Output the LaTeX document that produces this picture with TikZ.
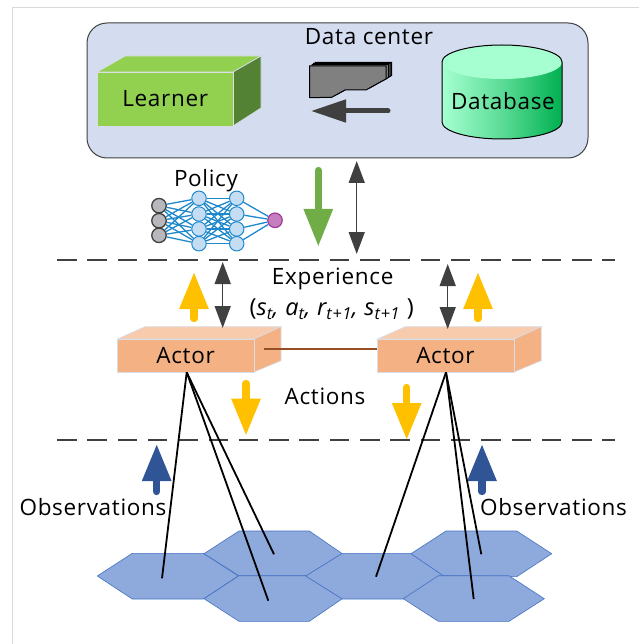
\documentclass[tikz,border=0pt]{standalone}
\usepackage{fontspec}
\setmainfont[LetterSpace=3]{Open Sans}
\usetikzlibrary{arrows.meta,shadings}
\definecolor{dk}{HTML}{404040}
\definecolor{panelc}{HTML}{D3DDEF}
\definecolor{grn}{HTML}{70AD47}
\definecolor{lgrn}{HTML}{92D050}
\definecolor{dgrn}{HTML}{548235}
\definecolor{yel}{HTML}{FFC000}
\definecolor{blu}{HTML}{2F5597}
\definecolor{hexf}{HTML}{8EA9DB}
\definecolor{hexs}{HTML}{4472C4}
\definecolor{netb}{HTML}{1F88CC}
\definecolor{netf}{HTML}{C5DDF3}
\definecolor{mintc}{HTML}{A6FFD0}
\definecolor{dbg}{HTML}{00B050}
\definecolor{actf}{HTML}{F4B183}
\definecolor{actt}{HTML}{F8CBAD}
\definecolor{edgec}{HTML}{D9DDE6}
\definecolor{brn}{HTML}{954F22}
\definecolor{framec}{HTML}{D9D9D9}
\definecolor{outf}{HTML}{C67FBE}
\definecolor{outd}{HTML}{A03A9C}
\definecolor{inf}{HTML}{B8B8BC}
\tikzset{
  lbl/.style={inner sep=0pt,font=\fontsize{22.5}{27}\selectfont,text=black},
  fat/.style={line width=7.3pt,line cap=round,-{Triangle[length=#1,width=27.5pt]},shorten >=0pt},
  fat/.default=37pt,
  twoway/.style={dk,line width=1.5pt,{Triangle[length=22pt,width=16pt]}-{Triangle[length=22pt,width=16pt]}},
  sep/.style={dk,line width=2pt,dash pattern=on 19.5pt off 10.8pt},
  hexa/.style={fill=hexf,draw=hexs,line width=0.6pt},
  lnk/.style={black,line width=1.8pt},
  inn/.style={circle,minimum size=14.5pt,inner sep=0pt,draw=netb,line width=1pt,fill=netf},
  inp/.style={circle,minimum size=14.5pt,inner sep=0pt,draw=dk,line width=1.3pt,fill=inf},
  outn/.style={circle,minimum size=14.5pt,inner sep=0pt,draw=outd,line width=1.2pt,fill=outf},
  wire/.style={netb,line width=1.3pt},
  cardshape/.style={fill=gray,draw=black,line width=1pt},
}
\begin{document}
\begin{tikzpicture}[x=1pt,y=-1pt]
\useasboundingbox (0,0) rectangle (639,644);
\draw[framec,line width=1pt] (12.5,644)--(12.5,7.5)--(639,7.5);
% data center
\draw[fill=panelc,draw=dk,line width=1pt,rounded corners=20pt] (87,23) rectangle (588,158);
\node[lbl] (dc) at (369,37) {Data center};
% learner
\fill[fill=lgrn,draw=edgec,line width=0.7pt] (97.3,72)--(125,56)--(261,56)--(233,72)--cycle;
\fill[fill=dgrn,draw=edgec,line width=0.7pt] (233,72)--(261,56)--(261,108)--(233,126)--cycle;
\node[minimum width=135.7pt,minimum height=54pt,inner sep=0pt,fill=lgrn,draw=edgec,line width=0.7pt,lbl] (learner) at (165.2,99) {\raisebox{-1pt}{Learner}};
% stack icon
\foreach \dx/\dy in {5.5/-3.5,4/-2.6,2.5/-1.5}
  \draw[cardshape] (309.5+\dx,66+\dy)--(386+\dx,66+\dy)--(386+\dx,79+\dy)--(379+\dx,82.7+\dy)--(366+\dx,90+\dy)--(345+\dx,90+\dy)--(331.7+\dx,97.3+\dy)--(309.5+\dx,97.7+\dy)--cycle;
\draw[cardshape] (309.5,66)--(386,66)--(386,79)--(379,82.7)--(366,90)--(345,90)--(331.7,97.3)--(309.5,97.7)--cycle;
\coordinate (sr) at (388,111);
\coordinate (sl) at (311,111);
\draw[dk,line width=5pt,line cap=round,-{Triangle[length=35pt,width=22pt]}] (sr)--(sl);
% database
\shade[left color=mintc,right color=dbg,middle color=mintc!55!dbg] (442,62)--(442,122) arc[start angle=180,end angle=360,x radius=60pt,y radius=17pt]--(562,62)--cycle;
\fill[mintc] (502,62) ellipse[x radius=60pt,y radius=17pt];
\draw[black,line width=1pt] (442,62)--(442,122) arc[start angle=180,end angle=360,x radius=60pt,y radius=17pt]--(562,62);
\draw[black,line width=1pt] (442,62) arc[start angle=180,end angle=0,x radius=60pt,y radius=17pt];
\node[lbl] (db) at (503,101) {Database};
% policy
\node[lbl] (pol) at (206,181) {Policy};
\foreach \p in {a,b,c} \foreach \q in {a,b,c,d} \coordinate (dummy\p\q) at (0,0);
\foreach \n/\y in {a/205.7,b/220.7,c/235.3} \node[inp] (i\n) at (159,\y) {};
\foreach \n/\y in {a/198.3,b/214,c/229,d/243.7} {\node[inn] (h\n) at (199,\y) {};\node[inn] (k\n) at (236.7,\y) {};}
\node[outn] (o) at (275,220.3) {};
\foreach \p in {a,b,c} \foreach \q in {a,b,c,d} \draw[wire] (i\p)--(h\q);
\foreach \p in {a,b,c,d} \foreach \q in {a,b,c,d} \draw[wire] (h\p)--(k\q);
\foreach \p in {a,b,c,d} \draw[wire] (k\p)--(o);
% separators
\coordinate (s1a) at (57,260); \coordinate (s1b) at (615,260);
\coordinate (s2a) at (57,440); \coordinate (s2b) at (615,440);
\draw[sep] (s1a)--(s1b);
\draw[sep] (s2a)--(s2b);
% actors
\foreach \n/\dx in {L/0,R/260.2}{
  \fill[fill=actt,draw=edgec,line width=0.7pt] (117.3+\dx,339)--(145+\dx,326.7)--(281+\dx,326.7)--(254+\dx,339)--cycle;
  \fill[fill=actf,draw=edgec,line width=0.7pt] (254+\dx,339)--(281+\dx,326.7)--(281+\dx,360.7)--(254+\dx,372)--cycle;
}
\node[lbl,minimum width=136.7pt,minimum height=33pt,fill=actf,draw=edgec,line width=0.7pt] (actL) at (185.65,355.5) {\raisebox{-1pt}{Actor}};
\node[lbl,minimum width=136.7pt,minimum height=33pt,fill=actf,draw=edgec,line width=0.7pt] (actR) at (445.5,355.5) {\raisebox{-1pt}{Actor}};
\coordinate (brs) at (264,349.3);
\draw[brn,line width=1.8pt] (brs)--(actR.west |- brs);
% texts
\node[lbl] (exp) at (332.7,278.5) {Experience};
\node[lbl,font=\fontsize{23.5}{28}\selectfont] (tup) at (331.7,309) {(\textit{s\textsubscript{t}, a\textsubscript{t}, r\textsubscript{t+1}, s\textsubscript{t+1}} )};
\node[lbl] (act) at (325,396) {Actions};
\node[lbl] (obL) at (93,507) {Observations};
\node[lbl] (obR) at (553.5,507) {Observations};
% arrows
\coordinate (g1) at (318.3,170.5); \coordinate (g2) at (318.3,246.7);
\draw[fat=37.7pt,grn] (g1)--(g2);
\coordinate (d1) at (356.7,161); \coordinate (d2) at (356.7,254);
\draw[twoway] (d1)--(d2);
\coordinate (y1) at (194,318.5); \coordinate (y2) at (194,272);
\draw[fat,yel] (y1)--(y2);
\coordinate (y3) at (478,318.5); \coordinate (y4) at (478,272);
\draw[fat,yel] (y3)--(y4);
\coordinate (t1) at (222.7,262); \coordinate (t2) at (222.7,328);
\draw[twoway] (t1)--(t2);
\coordinate (t3) at (447.7,264); \coordinate (t4) at (447.7,329);
\draw[twoway] (t3)--(t4);
\coordinate (y5) at (246,383.5); \coordinate (y6) at (246,435.7);
\draw[fat,yel] (y5)--(y6);
\coordinate (y7) at (406.7,387.5); \coordinate (y8) at (406.7,440);
\draw[fat,yel] (y7)--(y8);
\coordinate (b1) at (156.7,491.5); \coordinate (b2) at (156.7,444);
\draw[fat,blu] (b1)--(b2);
\coordinate (b3) at (482,491.5); \coordinate (b4) at (482,444);
\draw[fat,blu] (b3)--(b4);
% hexagons
\draw[hexa] (97.3,576)--(132.3,553.3)--(203.3,553.3)--(238.3,576)--(203.3,599)--(132.3,599)--cycle;
\draw[hexa] (204,553.7)--(239,531)--(309.3,531)--(342.3,553.7)--(306.7,575.7)--(239,575.7)--cycle;
\draw[hexa] (204,598.7)--(239,575.7)--(305.7,575.7)--(342.3,598.7)--(309.3,621.3)--(239,621.3)--cycle;
\draw[hexa] (305.7,576)--(342.3,553.3)--(411,553.3)--(444,576)--(403.3,599)--(342.3,599)--cycle;
\draw[hexa] (411,553.7)--(446,531)--(516.7,531)--(551.7,553.7)--(516.7,576.7)--(443.3,575.7)--cycle;
\draw[hexa] (403.3,598.7)--(438.3,575.7)--(509,575.7)--(544.3,598.7)--(509,621.3)--(438.3,621.3)--cycle;
% links
\coordinate (aL) at (186.7,372.3); \coordinate (aR) at (446,372.3);
\coordinate (c1) at (162,578.3); \coordinate (c2) at (268.3,600.7); \coordinate (c3) at (274,554.3);
\coordinate (c4) at (376,576.7); \coordinate (c5) at (473.7,599); \coordinate (c6) at (481.3,554.3);
\foreach \e in {c1,c2,c3} \draw[lnk] (aL)--(\e);
\foreach \e in {c4,c5,c6} \draw[lnk] (aR)--(\e);
\end{tikzpicture}
\end{document}
